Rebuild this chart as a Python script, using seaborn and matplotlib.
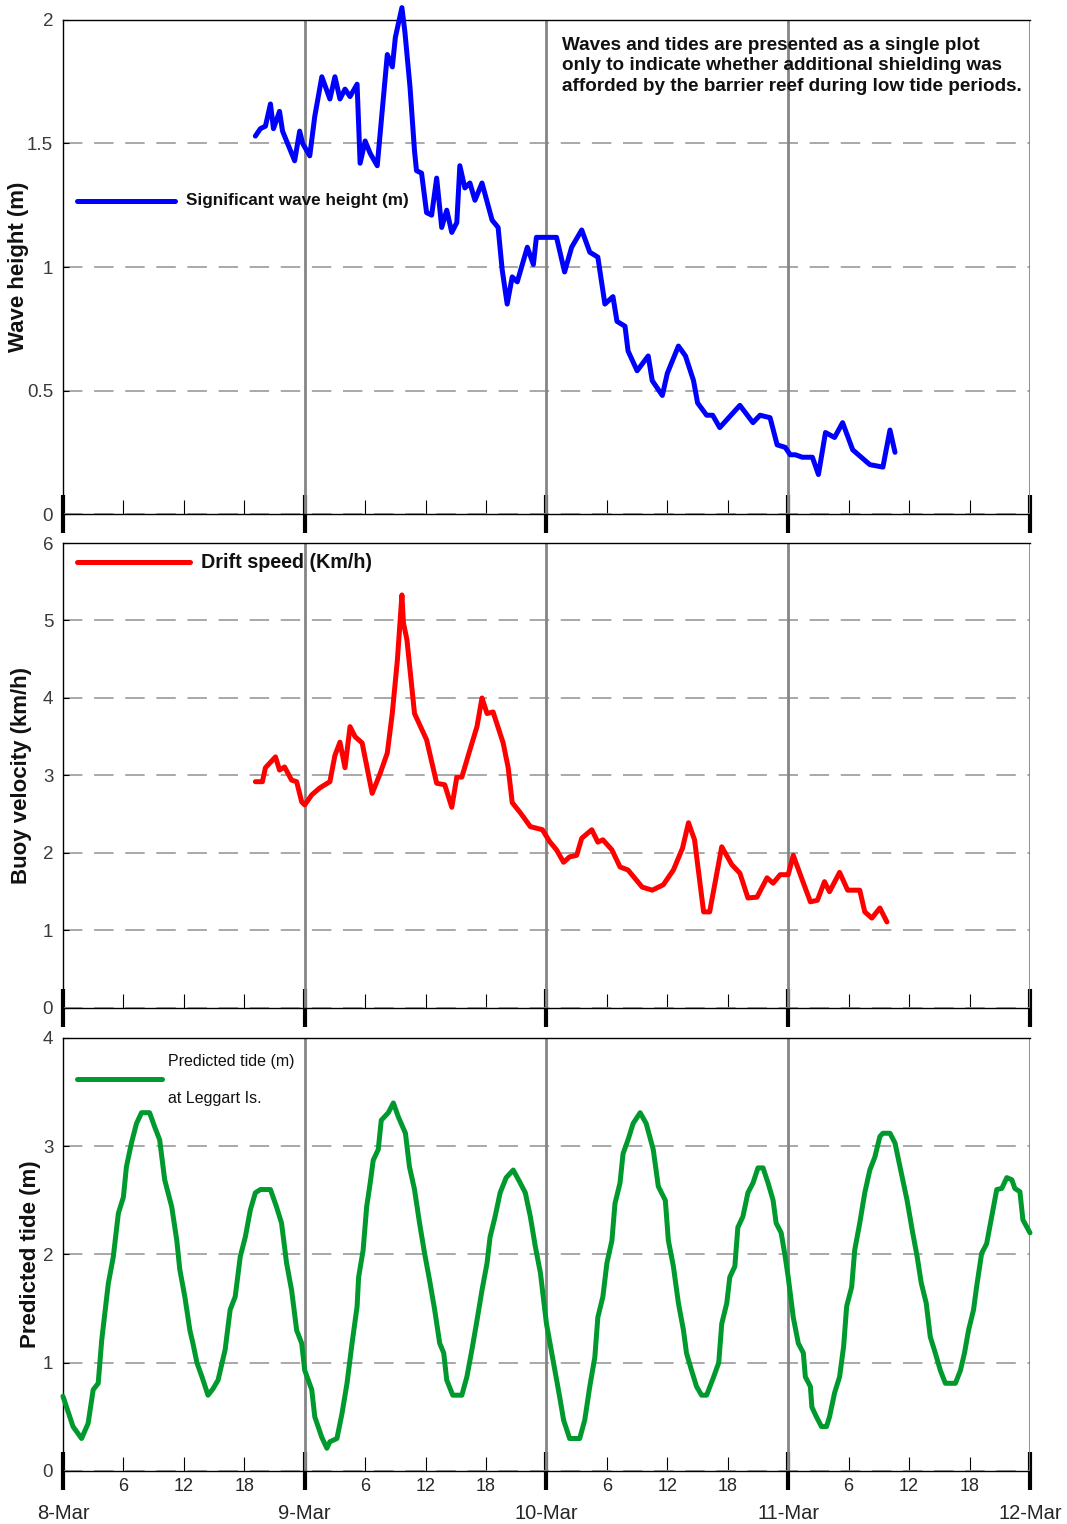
import numpy as np
import pandas as pd
import seaborn as sns
import matplotlib.pyplot as plt
from matplotlib.ticker import FixedLocator, FixedFormatter, NullFormatter

# hours after 8-Mar 00:00
wave_hours = [19.1, 19.6, 20.1, 20.6, 20.9, 21.5, 21.8, 22.3, 23.0, 23.5, 23.8, 24.5, 25.0, 25.7,
              26.5, 27.0, 27.5, 28.0, 28.5, 29.2, 29.5, 30.0, 30.5, 31.2, 31.8, 32.2, 32.7, 33.0,
              33.65, 33.95, 34.45, 34.9, 35.1, 35.6, 36.1, 36.6, 37.1, 37.6, 38.1, 38.6, 39.1,
              39.4, 39.9, 40.4, 40.9, 41.6, 42.6, 43.2, 43.6, 44.1, 44.6, 45.1, 46.1, 46.7, 47.0,
              47.7, 49.0, 49.8, 50.5, 51.5, 52.3, 53.1, 53.8, 54.6, 55.0, 55.8, 56.1, 57.0, 58.1,
              58.5, 59.5, 60.0, 61.1, 61.8, 62.6, 63.0, 63.9, 64.5, 65.2, 67.2, 68.5, 69.2, 70.2,
              70.9, 71.7, 72.2, 72.7, 73.4, 74.4, 75.0, 75.7, 76.6, 77.4, 78.4, 80.1, 81.4, 82.1,
              82.6]
wave_height = [1.53, 1.56, 1.57, 1.66, 1.56, 1.63, 1.55, 1.50, 1.43, 1.55, 1.50, 1.45, 1.61, 1.77,
               1.68, 1.77, 1.68, 1.72, 1.69, 1.74, 1.42, 1.51, 1.46, 1.41, 1.68, 1.86, 1.81, 1.93,
               2.05, 1.95, 1.73, 1.47, 1.39, 1.38, 1.22, 1.21, 1.36, 1.16, 1.23, 1.14, 1.18,
               1.41, 1.32, 1.34, 1.27, 1.34, 1.19, 1.16, 0.99, 0.85, 0.96, 0.94, 1.08, 1.01, 1.12,
               1.12, 1.12, 0.98, 1.08, 1.15, 1.06, 1.04, 0.85, 0.88, 0.78, 0.76, 0.66, 0.58, 0.64,
               0.54, 0.48, 0.57, 0.68, 0.64, 0.54, 0.45, 0.40, 0.40, 0.35, 0.44, 0.37, 0.40, 0.39,
               0.28, 0.27, 0.24, 0.24, 0.23, 0.23, 0.16, 0.33, 0.31, 0.37, 0.26, 0.20, 0.19, 0.34,
               0.25]

drift_hours = [19.1, 19.8, 20.1, 21.1, 21.5, 22.0, 22.7, 23.2, 23.7, 24.0, 24.7, 25.5, 26.5, 27.0,
               27.5, 28.0, 28.5, 29.0, 29.7, 30.7, 31.5, 32.2, 32.7, 33.2, 33.65, 33.8, 34.15, 34.9,
               36.1, 37.1, 37.9, 38.6, 39.1, 39.6, 40.4, 41.1, 41.6, 42.1, 42.7, 43.7, 44.2, 44.6,
               45.4, 46.4, 47.6, 48.3, 49.0, 49.7, 50.3, 51.0, 51.5, 52.5, 53.1, 53.6, 54.5, 55.3,
               56.1, 57.5, 58.5, 59.6, 60.6, 61.5, 62.1, 62.7, 63.6, 64.2, 65.4, 66.4, 67.2, 68.0,
               68.9, 69.9, 70.5, 71.2, 72.0, 72.5, 73.4, 74.2, 74.9, 75.6, 76.1, 77.1, 77.9, 79.1,
               79.6, 80.3, 81.1, 81.8]
drift_speed = [2.92, 2.92, 3.10, 3.24, 3.07, 3.11, 2.94, 2.92, 2.66, 2.62, 2.75, 2.84, 2.92, 3.26,
               3.43, 3.10, 3.63, 3.50, 3.42, 2.77, 3.03, 3.29, 3.81, 4.49, 5.33, 4.97, 4.75, 3.80,
               3.46, 2.90, 2.88, 2.59, 2.98, 2.98, 3.33, 3.63, 4.00, 3.80, 3.82, 3.42, 3.10, 2.65,
               2.52, 2.34, 2.30, 2.15, 2.04, 1.88, 1.95, 1.97, 2.19, 2.30, 2.14, 2.17, 2.04, 1.82,
               1.78, 1.56, 1.52, 1.59, 1.78, 2.06, 2.39, 2.17, 1.24, 1.24, 2.08, 1.85, 1.74, 1.42,
               1.43, 1.68, 1.61, 1.72, 1.72, 1.97, 1.65, 1.37, 1.39, 1.63, 1.50, 1.75, 1.52, 1.52,
               1.24, 1.16, 1.29, 1.11]

tide_hours = [0.0, 1.0, 1.85, 2.5, 3.0, 3.5, 3.85, 4.5, 5.0, 5.5, 6.0, 6.3, 6.8, 7.3, 7.8, 8.6, 9.1,
              9.6, 10.1, 10.8, 11.3, 11.6, 12.1, 12.6, 12.9, 13.3, 13.8, 14.4, 14.9, 15.4, 16.1,
              16.6, 17.1, 17.6, 18.1, 18.6, 19.1, 19.6, 20.6, 21.2, 21.7, 22.2, 22.7, 23.2, 23.7,
              24.0, 24.7, 25.0, 25.7, 26.2, 26.5, 27.2, 27.7, 28.2, 28.7, 29.2, 29.35, 29.8, 30.15,
              30.5, 30.8, 31.3, 31.6, 32.3, 32.8, 33.3, 34.0, 34.4, 34.9, 35.4, 35.9, 36.4, 36.9,
              37.4, 37.8, 38.1, 38.7, 39.6, 40.1, 40.6, 41.1, 41.6, 42.1, 42.4, 42.9, 43.4, 44.0,
              44.7, 45.4, 45.9, 46.4, 46.9, 47.4, 48.0, 48.7, 49.3, 49.7, 50.3, 51.3, 51.8, 52.3,
              52.8, 53.1, 53.6, 54.0, 54.5, 54.8, 55.3, 55.6, 56.1, 56.6, 57.3, 57.9, 58.6, 59.1,
              59.8, 60.1, 60.6, 61.1, 61.6, 61.9, 62.4, 62.9, 63.4, 63.9, 64.6, 65.1, 65.4, 65.9,
              66.2, 66.7, 67.0, 67.5, 68.0, 68.5, 69.0, 69.5, 70.0, 70.5, 70.8, 71.3, 71.7, 72.0,
              72.5, 73.0, 73.5, 73.7, 74.2, 74.35, 74.8, 75.3, 75.8, 76.1, 76.6, 77.1, 77.5, 77.8,
              78.3, 78.6, 79.1, 79.6, 80.1, 80.6, 81.1, 81.4, 82.1, 82.6, 83.1, 83.8, 84.3, 84.8,
              85.2, 85.7, 86.1, 86.6, 87.1, 87.6, 88.6, 89.1, 89.5, 89.9, 90.4, 90.7, 91.2, 91.7,
              92.2, 92.7, 93.2, 93.7, 94.2, 94.5, 95.0, 95.3, 96.0]
tide_level = [0.69, 0.41, 0.30, 0.44, 0.75, 0.81, 1.21, 1.73, 1.98, 2.38, 2.53, 2.81, 3.03, 3.21,
              3.31, 3.31, 3.18, 3.06, 2.69, 2.44, 2.13, 1.86, 1.61, 1.30, 1.18, 1.00, 0.87, 0.70,
              0.76, 0.84, 1.12, 1.49, 1.61, 1.98, 2.16, 2.41, 2.57, 2.60, 2.60, 2.44, 2.29, 1.92,
              1.67, 1.30, 1.18, 0.93, 0.75, 0.50, 0.31, 0.21, 0.27, 0.30, 0.53, 0.81, 1.18, 1.52,
              1.79, 2.04, 2.44, 2.66, 2.87, 2.97, 3.24, 3.31, 3.40, 3.27, 3.12, 2.81, 2.60, 2.29,
              2.01, 1.76, 1.49, 1.18, 1.09, 0.84, 0.70, 0.70, 0.87, 1.12, 1.39, 1.67, 1.92, 2.16,
              2.35, 2.57, 2.71, 2.78, 2.66, 2.57, 2.35, 2.07, 1.83, 1.36, 1.00, 0.69, 0.47, 0.30,
              0.30, 0.47, 0.78, 1.05, 1.42, 1.61, 1.92, 2.13, 2.47, 2.66, 2.93, 3.06, 3.21, 3.31,
              3.21, 2.97, 2.63, 2.50, 2.13, 1.89, 1.55, 1.30, 1.09, 0.93, 0.78, 0.70, 0.70, 0.87,
              1.00, 1.36, 1.55, 1.79, 1.89, 2.25, 2.35, 2.57, 2.66, 2.80, 2.80, 2.66, 2.50, 2.29,
              2.20, 1.98, 1.79, 1.42, 1.18, 1.09, 0.87, 0.78, 0.59, 0.50, 0.41, 0.41, 0.50, 0.72,
              0.87, 1.15, 1.52, 1.70, 2.04, 2.29, 2.57, 2.78, 2.90, 3.09, 3.12, 3.12, 3.03, 2.81,
              2.50, 2.23, 1.98, 1.74, 1.55, 1.24, 1.09, 0.93, 0.81, 0.81, 0.93, 1.09, 1.30, 1.49,
              1.70, 2.01, 2.10, 2.35, 2.60, 2.61, 2.71, 2.69, 2.61, 2.58, 2.32, 2.20]

day_ticks = [0, 24, 48, 72, 96]
day_labels = ["8-Mar", "9-Mar", "10-Mar", "11-Mar", "12-Mar"]
hour_ticks = [6, 12, 18, 30, 36, 42, 54, 60, 66, 78, 84, 90]
hour_labels = ["6", "12", "18"] * 4

wave_df = pd.DataFrame({"hour": wave_hours, "value": wave_height})
drift_df = pd.DataFrame({"hour": drift_hours, "value": drift_speed})
tide_df = pd.DataFrame({"hour": tide_hours, "value": tide_level})

sns.set_style("white")
plt.rcParams["font.family"] = ["Liberation Sans", "DejaVu Sans"]

fig = plt.figure(figsize=(10.67, 15.24), dpi=100)
ax1 = fig.add_axes([0.059, 0.6627, 0.9063, 0.3242])
ax2 = fig.add_axes([0.059, 0.3386, 0.9063, 0.3051])
ax3 = fig.add_axes([0.059, 0.0348, 0.9063, 0.2841])

panels = [
    (ax1, wave_df, "#0000ff", 2, [0, 0.5, 1, 1.5, 2], ["0", "0.5", "1", "1.5", "2"], "Wave height (m)", -0.035),
    (ax2, drift_df, "#ff0000", 6, [0, 1, 2, 3, 4, 5, 6], None, "Buoy velocity (km/h)", -0.032),
    (ax3, tide_df, "#00992e", 4, [0, 1, 2, 3, 4], None, "Predicted tide (m)", -0.023),
]

for ax, df, color, ymax, yt, ytl, ylab, lx in panels:
    sns.lineplot(data=df, x="hour", y="value", ax=ax, color=color, linewidth=3.6,
                 estimator=None, sort=False, clip_on=False, zorder=5)
    ax.set_xlim(0, 96)
    ax.set_ylim(0, ymax)
    ax.set_yticks(yt)
    if ytl is not None:
        ax.set_yticklabels(ytl)
    ax.yaxis.grid(True, color="#a8a8a8", linestyle=(0, (10, 6)), linewidth=1.4)
    ax.xaxis.grid(False)
    for d in day_ticks[1:]:
        ax.axvline(d, color="#858585", linewidth=2.0, zorder=2)
    for s in ["left", "top", "bottom"]:
        ax.spines[s].set_visible(True)
        ax.spines[s].set_color("black")
        ax.spines[s].set_linewidth(1.0)
    ax.spines["right"].set_visible(False)
    ax.tick_params(axis="y", direction="in", length=4, width=0.8, color="black",
                   labelsize=13.5, labelcolor="#3a3a3a", pad=7, left=True)
    ax.xaxis.set_major_locator(FixedLocator(day_ticks))
    ax.xaxis.set_minor_locator(FixedLocator(hour_ticks))
    ax.tick_params(axis="x", which="major", direction="inout", length=27, width=3.0,
                   color="black", bottom=True, labelsize=14.5, pad=10)
    ax.tick_params(axis="x", which="minor", direction="in", length=10, width=0.8,
                   color="black", bottom=True, labelsize=13, pad=5)
    ax.set_xlabel("")
    ax.set_ylabel(ylab, fontsize=16, fontweight="bold", color="#111111")
    ax.yaxis.set_label_coords(lx, 0.5)
    if ax is ax3:
        ax.xaxis.set_major_formatter(FixedFormatter(day_labels))
        ax.xaxis.set_minor_formatter(FixedFormatter(hour_labels))
    else:
        ax.xaxis.set_major_formatter(NullFormatter())
        ax.xaxis.set_minor_formatter(NullFormatter())

# legend-like keys
ax1.plot([0.0145, 0.1158], [0.6336, 0.6336], transform=ax1.transAxes, color="#0000ff",
         linewidth=3.6, clip_on=False)
ax1.text(0.127, 0.6336, "Significant wave height (m)", transform=ax1.transAxes,
         fontsize=12.3, fontweight="bold", va="center", ha="left", color="#111111")
ax1.text(0.516, 0.966, "Waves and tides are presented as a single plot\n"
         "only to indicate whether additional shielding was\n"
         "afforded by the barrier reef during low tide periods.",
         transform=ax1.transAxes, fontsize=13.6, fontweight="bold", va="top", ha="left",
         linespacing=1.28, color="#111111")

ax2.plot([0.0145, 0.1313], [0.959, 0.959], transform=ax2.transAxes, color="#ff0000",
         linewidth=3.6, clip_on=False)
ax2.text(0.1427, 0.959, "Drift speed (Km/h)", transform=ax2.transAxes,
         fontsize=14.2, fontweight="bold", va="center", ha="left", color="#111111")

ax3.plot([0.0145, 0.1024], [0.905, 0.905], transform=ax3.transAxes, color="#00992e",
         linewidth=3.6, clip_on=False)
ax3.text(0.1086, 0.9446, "Predicted tide (m)", transform=ax3.transAxes,
         fontsize=11.5, va="center", ha="left", color="#111111")
ax3.text(0.1086, 0.861, "at Leggart Is.", transform=ax3.transAxes,
         fontsize=11.5, va="center", ha="left", color="#111111")

fig.savefig("out.png", dpi=100)
